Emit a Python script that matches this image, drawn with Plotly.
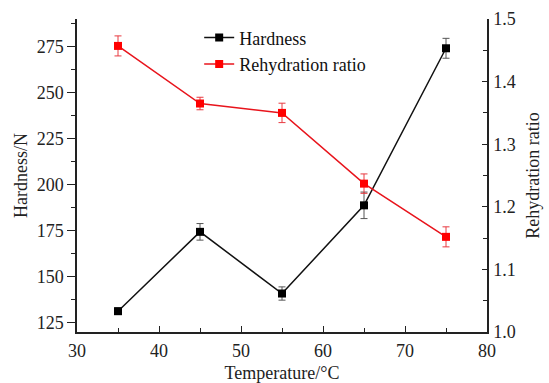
import plotly.graph_objects as go

# Drying temperature (°C)
temperature = [35, 45, 55, 65, 75]

# Hardness (N) with standard deviation
hardness = [131.3, 174.4, 140.9, 188.8, 274.1]
hardness_err = [1.8, 4.5, 3.6, 7.2, 5.4]

# Rehydration ratio with standard deviation
rehydration = [1.457, 1.365, 1.350, 1.237, 1.152]
rehydration_err = [0.016, 0.010, 0.0155, 0.0155, 0.016]

FONT = "Liberation Serif"
AXIS_COLOR = "#222222"

fig = go.Figure()

fig.add_trace(go.Scatter(
    x=temperature, y=hardness, name="Hardness",
    mode="lines+markers",
    line=dict(color="#111111", width=1.5),
    marker=dict(symbol="square", size=8, color="#000000"),
    error_y=dict(type="data", array=hardness_err, visible=True,
                 color="#555555", thickness=1, width=3.5),
    yaxis="y",
))

fig.add_trace(go.Scatter(
    x=temperature, y=rehydration, name="Rehydration ratio",
    mode="lines+markers",
    line=dict(color="#e8141c", width=1.5),
    marker=dict(symbol="square", size=8, color="#ff0000"),
    error_y=dict(type="data", array=rehydration_err, visible=True,
                 color="#e83a40", thickness=1, width=3.5),
    yaxis="y2",
))

fig.update_layout(
    width=549, height=383,
    margin=dict(l=77, r=62, t=19, b=51, autoexpand=False),
    paper_bgcolor="white", plot_bgcolor="white",
    font=dict(family=FONT, size=18, color=AXIS_COLOR),
    showlegend=True,
    legend=dict(
        x=0.298, y=0.999, xanchor="left", yanchor="top",
        bgcolor="rgba(0,0,0,0)", borderwidth=0,
        font=dict(family=FONT, size=18, color="#111111"),
        tracegroupgap=0, itemwidth=30,
    ),
    xaxis=dict(
        range=[30, 80], dtick=10, tick0=30, automargin=False,
        showline=True, linecolor=AXIS_COLOR, linewidth=1.5,
        ticks="inside", ticklen=6, tickwidth=1.2, tickcolor=AXIS_COLOR,
        minor=dict(dtick=5, ticks="inside", ticklen=4, tickwidth=1.2, tickcolor=AXIS_COLOR),
        showgrid=False, zeroline=False, mirror=False,
        ticklabelstandoff=2,
        tickfont=dict(family=FONT, size=18, color=AXIS_COLOR),
        title=dict(text="Temperature/°C", standoff=12,
                   font=dict(family=FONT, size=18, color=AXIS_COLOR)),
    ),
    yaxis=dict(
        range=[120, 290], dtick=25, tick0=125, automargin=False,
        showline=True, linecolor=AXIS_COLOR, linewidth=1.5,
        ticks="outside", ticklen=8, tickwidth=1.2, tickcolor=AXIS_COLOR,
        minor=dict(dtick=12.5, tick0=125, ticks="outside", ticklen=4, tickwidth=1.2, tickcolor=AXIS_COLOR),
        showgrid=False, zeroline=False,
        tickfont=dict(family=FONT, size=18, color=AXIS_COLOR),
        title=dict(text="Hardness/N", standoff=4,
                   font=dict(family=FONT, size=18, color=AXIS_COLOR)),
    ),
    yaxis2=dict(
        range=[1.0, 1.5], dtick=0.1, tick0=1.0, tickformat=".1f", automargin=False,
        overlaying="y", side="right",
        showline=True, linecolor=AXIS_COLOR, linewidth=1.5,
        ticks="inside", ticklen=5, tickwidth=1.2, tickcolor=AXIS_COLOR,
        minor=dict(dtick=0.05, ticks="inside", ticklen=4, tickwidth=1.2, tickcolor=AXIS_COLOR),
        showgrid=False, zeroline=False,
        ticklabelstandoff=1,
        tickfont=dict(family=FONT, size=18, color=AXIS_COLOR),
        title=dict(text="Rehydration ratio", standoff=12,
                   font=dict(family=FONT, size=18, color=AXIS_COLOR)),
    ),
)

fig.write_html("out.html")
